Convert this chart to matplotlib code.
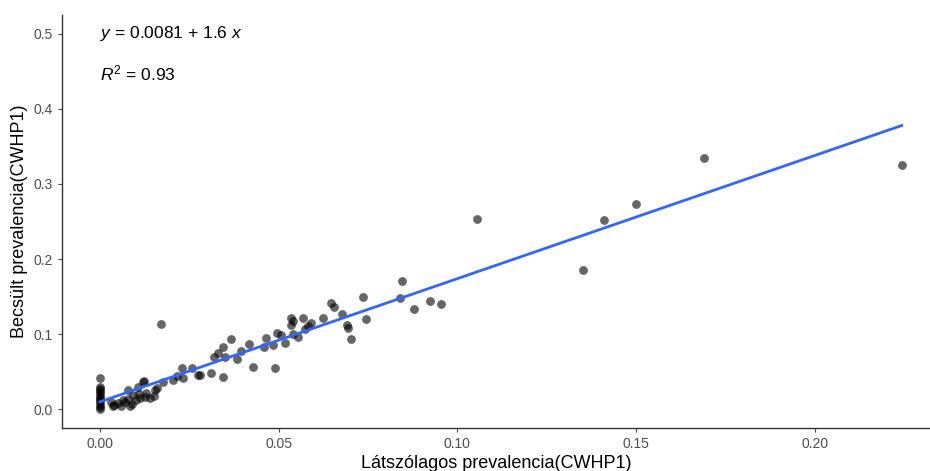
import numpy as np
import matplotlib.pyplot as plt

plt.rcParams['font.family'] = ['Liberation Sans', 'DejaVu Sans']
plt.rcParams['mathtext.fontset'] = 'custom'
plt.rcParams['mathtext.rm'] = 'Liberation Sans'
plt.rcParams['mathtext.it'] = 'Liberation Sans:italic'

# Látszólagos prevalencia (x) vs. becsült prevalencia (y)
latszolagos = [
    0.0, 0.0, 0.0, 0.0, 0.0, 0.0, 0.0, 0.0, 0.0, 0.0, 0.0, 0.0,
    0.0036, 0.005, 0.0064, 0.0078, 0.0084, 0.0092, 0.0106, 0.0112, 0.012,
    0.0126, 0.014, 0.0154, 0.016, 0.003, 0.004, 0.006, 0.007, 0.008,
    0.009, 0.010, 0.011, 0.013, 0.015,
    0.0171, 0.0123, 0.0176, 0.0204, 0.0215, 0.0229, 0.0232, 0.0257, 0.0274,
    0.028, 0.031, 0.0344, 0.0319, 0.033, 0.0344, 0.0366, 0.035, 0.0383,
    0.0394, 0.0417, 0.0428, 0.0459, 0.0464, 0.0484, 0.049, 0.0495, 0.0506,
    0.0517, 0.0534, 0.054, 0.0534, 0.054, 0.0554, 0.0568, 0.0573, 0.0582,
    0.059, 0.0624, 0.0646, 0.0655, 0.0677, 0.0691, 0.0694, 0.0702, 0.0736,
    0.0744, 0.0839, 0.0845, 0.088, 0.0923, 0.0954, 0.1055, 0.135, 0.141,
    0.150, 0.169, 0.2243,
]
becsult = [
    0.042, 0.030, 0.027, 0.024, 0.021, 0.018, 0.015, 0.012, 0.009, 0.006,
    0.003, 0.0,
    0.004, 0.008, 0.012, 0.025, 0.004, 0.019, 0.029, 0.015, 0.036,
    0.016, 0.015, 0.025, 0.028, 0.010, 0.006, 0.004, 0.009, 0.014,
    0.007, 0.012, 0.020, 0.022, 0.018,
    0.113, 0.037, 0.036, 0.039, 0.044, 0.055, 0.041, 0.055, 0.045,
    0.045, 0.048, 0.043, 0.069, 0.075, 0.083, 0.093, 0.069, 0.067,
    0.077, 0.087, 0.056, 0.083, 0.095, 0.085, 0.055, 0.101, 0.099,
    0.088, 0.121, 0.117, 0.112, 0.100, 0.096, 0.121, 0.107, 0.111,
    0.115, 0.121, 0.141, 0.136, 0.127, 0.112, 0.108, 0.093, 0.149,
    0.120, 0.148, 0.171, 0.134, 0.144, 0.140, 0.253, 0.185, 0.252,
    0.273, 0.335, 0.325,
]

x = np.array(latszolagos)
y = np.array(becsult)
slope, intercept = np.polyfit(x, y, 1)

fig = plt.figure(figsize=(9.3, 4.71), dpi=100)
ax = fig.add_axes([62 / 930, 43 / 471, 868 / 930, 413 / 471])

ax.scatter(x, y, s=40, color='black', alpha=0.6, linewidths=0, zorder=2)
xs = np.array([x.min(), x.max()])
ax.plot(xs, intercept + slope * xs, color='#3366FF', lw=2.0, zorder=3)

ax.text(0.0, 0.5, '$y$ = 0.0081 + 1.6 $x$', fontsize=12.5, va='center',
        color='black')
ax.text(0.0, 0.447, '$R^2$ = 0.93', fontsize=12.5, va='center', color='black')

ax.set_xlim(-0.0106, 0.2322)
ax.set_ylim(-0.025, 0.525)
ax.set_xticks([0.0, 0.05, 0.10, 0.15, 0.20])
ax.set_xticklabels(['0.00', '0.05', '0.10', '0.15', '0.20'])
ax.set_yticks([0.0, 0.1, 0.2, 0.3, 0.4, 0.5])
ax.set_yticklabels(['0.0', '0.1', '0.2', '0.3', '0.4', '0.5'])
ax.tick_params(colors='#4D4D4D', labelsize=10, length=3, width=0.8)
for side in ['top', 'right']:
    ax.spines[side].set_visible(False)
for side in ['left', 'bottom']:
    ax.spines[side].set_color('#333333')
    ax.spines[side].set_linewidth(1.0)

ax.set_xlabel('Látszólagos prevalencia(CWHP1)', fontsize=13, labelpad=3)
ax.set_ylabel('Becsült prevalencia(CWHP1)', fontsize=13, labelpad=4)

fig.savefig('out.png', dpi=100)
